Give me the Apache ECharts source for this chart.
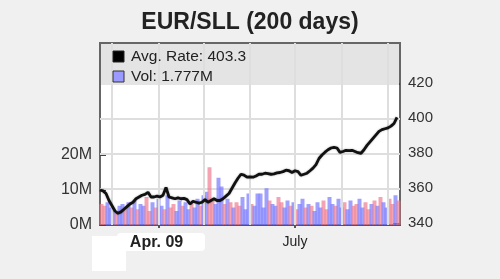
<!DOCTYPE html>
<html><head><meta charset="utf-8">
<script src="https://cdn.jsdelivr.net/npm/echarts@6/dist/echarts.min.js"></script>
<style>html,body{margin:0;padding:0;background:#f0f0f0;}#c{width:500px;height:279px;}</style>
</head><body><div id="c"></div>
<script>
// Average EUR/SLL rate, one sample every 2 days (200 days, from Feb 21 2009)
const rate = [
  359, 358.5, 357, 353, 350, 347, 345.7, 346.5, 348, 349.5,
  351, 352, 354, 355, 356, 356.5, 357.7, 355, 355, 355.5,
  355, 356, 360.5, 355, 354.5, 354, 354.5, 354, 354.2, 353.5,
  351, 352.5, 352, 351.5, 352, 353.5, 352, 353, 354, 353,
  353, 354, 355.5, 357, 360, 363, 365.7, 368, 367.5, 366.3,
  366.5, 366.3, 367, 368, 368, 368.6, 368.3, 368, 368.2, 368.8,
  369, 369.5, 370.3, 370, 369, 370, 369.5, 367.4, 368, 368.6,
  370, 371.5, 373.5, 377, 379, 380.6, 382, 383, 383.4, 383,
  380.5, 381, 381.7, 381.5, 381.7, 381, 380.3, 380, 382, 384.5,
  386.5, 388.5, 390.5, 392.5, 393.5, 394, 394.5, 395.5, 397, 400.5
];
// Volume (millions)
const vol = [
  6.0, 5.5, 6.5, 5.0, 4.0, 3.5, 5.5, 6.0, 4.5, 6.5,
  5.0, 7.0, 4.5, 6.0, 5.5, 8.0, 4.0, 6.5, 5.0, 7.5,
  5.5, 4.5, 8.5, 5.0, 6.0, 4.0, 7.0, 5.5, 6.5, 4.5,
  6.0, 5.0, 7.5, 5.5, 8.5, 9.5, 16.5, 7.0, 6.0, 13.5,
  11.0, 6.0, 7.5, 6.5, 5.0, 6.5, 5.5, 8.0, 4.5, 9.0,
  6.0, 5.5, 9.0, 9.0, 5.0, 10.5, 7.0, 6.0, 5.5, 8.0,
  6.5, 5.0, 7.0, 5.5, 6.5, 4.5, 6.0, 7.5, 5.0, 6.0,
  5.5, 4.0, 6.5, 5.0, 7.0, 4.5, 8.0, 6.0, 5.5, 7.5,
  5.0, 6.5, 4.5, 7.0, 5.5, 6.0, 7.5, 5.0, 6.5, 4.5,
  6.0, 7.0, 5.5, 8.0, 6.5, 5.0, 7.5, 6.0, 8.5, 7.0
];
// Bar colour: r = down (red), b = up (blue)
const volDir = [
  'r','r','b','b','b','r','b','b','r','b',
  'r','b','r','b','b','r','r','b','r','b',
  'b','r','b','r','r','b','b','r','b','b',
  'r','b','b','r','b','b','r','r','b','b',
  'b','r','b','r','b','r','r','b','b','b',
  'r','b','b','b','b','b','r','b','b','r',
  'r','b','b','r','b','r','b','b','r','b',
  'r','b','b','b','r','r','b','b','r','b',
  'b','r','b','b','r','r','b','b','r','r',
  'b','r','b','r','b','b','r','r','b','r'
];
const monthStarts = [8, 39, 69, 100, 130, 161, 192];   // day index of Mar 1 ... Sep 1
const xLabels = {39: 'Apr. 09', 130: 'July'};
const rightTicks = [340, 360, 380, 400, 420];
const leftTicks = [0, 10, 20];
const title = 'EUR/SLL (200 days)';
const legendRate = 'Avg. Rate: 403.3';
const legendVol = 'Vol: 1.777M';

const FONT = '"Liberation Sans", Arial, sans-serif';
const lineData = rate.map((v, i) => [2 * i, v]);
const barData = vol.map((v, i) => ({
  value: [2 * i + 1, v],
  itemStyle: {color: volDir[i] === 'r' ? 'rgba(238,120,140,0.68)' : 'rgba(120,120,255,0.7)'}
}));

const chart = echarts.init(document.getElementById('c'), null, {renderer: 'canvas'});
chart.setOption({
  backgroundColor: '#f0f0f0',
  animation: false,
  title: {text: title, left: 'center', top: 6,
    textStyle: {fontFamily: FONT, fontSize: 23, fontWeight: 'bold', color: '#222'}},
  grid: {left: 100, right: 100, top: 43, bottom: 54, show: true,
    backgroundColor: '#ffffff', borderColor: '#666', borderWidth: 2},
  xAxis: {type: 'value', min: 0, max: 200,
    axisLine: {show: true, lineStyle: {color: '#555', width: 2}},
    axisTick: {show: true, customValues: [39, 130], length: 3, lineStyle: {color: '#555', width: 2}},
    splitLine: {show: false},
    axisLabel: {customValues: [39, 130], margin: 10, fontFamily: FONT, fontSize: 14, color: '#222',
      formatter: v => xLabels[v] === 'Apr. 09' ? '{b|Apr. 09}' : (xLabels[v] || ''),
      rich: {b: {fontFamily: FONT, fontSize: 16, fontWeight: 'bold', color: '#222', padding: [0, 4, 0, 0]}}}
  },
  yAxis: [
    {type: 'value', position: 'left', min: 0, max: 52,
      axisLine: {show: true, lineStyle: {color: '#666', width: 2}},
      axisTick: {show: true, inside: true, length: 6, customValues: leftTicks, lineStyle: {color: '#444', width: 2}},
      splitLine: {show: false},
      axisLabel: {customValues: leftTicks, margin: 8, fontFamily: FONT, fontSize: 16, color: '#333',
        formatter: v => v + 'M'}},
    {type: 'value', position: 'right', min: 339, max: 443,
      axisLine: {show: true, lineStyle: {color: '#666', width: 2}},
      axisTick: {show: true, inside: true, length: 7, customValues: rightTicks, lineStyle: {color: '#444', width: 2}},
      splitLine: {show: false},
      axisLabel: {customValues: rightTicks, margin: 8, fontFamily: FONT, fontSize: 15, color: '#333'}}
  ],
  graphic: [
    {type: 'rect', z: 1, silent: true, shape: {x: 101, y: 44, width: 298, height: 41}, style: {fill: '#e4e4e4'}},
    {type: 'rect', z: 20, shape: {x: 113, y: 51, width: 11, height: 11}, style: {fill: '#000', stroke: '#222', lineWidth: 1}},
    {type: 'text', z: 20, style: {x: 131, y: 57, text: legendRate, font: '15.5px ' + FONT, fill: '#222', textVerticalAlign: 'middle'}},
    {type: 'rect', z: 20, shape: {x: 113, y: 71, width: 11, height: 11}, style: {fill: '#9a9aff', stroke: '#333', lineWidth: 1}},
    {type: 'text', z: 20, style: {x: 131, y: 77, text: legendVol, font: '15.5px ' + FONT, fill: '#222', textVerticalAlign: 'middle'}},
    {type: 'rect', z: -1, silent: true, shape: {x: 117, y: 233, width: 88, height: 18, r: 4}, style: {fill: '#ffffff'}},
    {type: 'rect', z: -1, silent: true, shape: {x: 92, y: 236, width: 34, height: 35}, style: {fill: '#ffffff'}}
  ],
  series: [
    {type: 'bar', yAxisIndex: 0, data: barData, barWidth: 4, barGap: '-100%', z: 2,
      markLine: {silent: true, symbol: 'none', label: {show: false},
        lineStyle: {color: '#dedede', width: 2, type: 'solid'},
        data: monthStarts.map(d => ({xAxis: d}))}},
    {type: 'line', yAxisIndex: 1, data: lineData, showSymbol: false, z: 5,
      lineStyle: {color: '#111', width: 2.8, shadowColor: 'rgba(0,0,0,0.35)', shadowBlur: 2},
      markLine: {silent: true, symbol: 'none', label: {show: false}, z: 1,
        lineStyle: {color: '#dedede', width: 2, type: 'solid'},
        data: [360, 380, 400].map(v => ({yAxis: v}))}}
  ]
});
</script></body></html>
